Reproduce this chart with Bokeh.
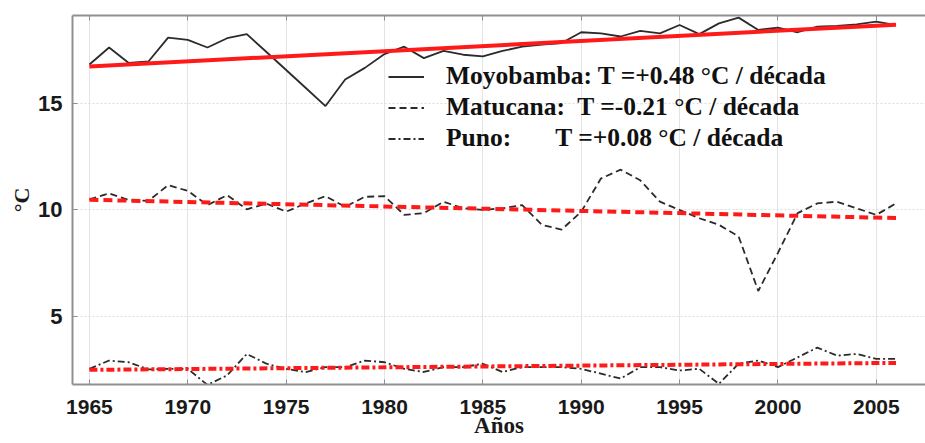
from bokeh.plotting import figure
from bokeh.models import Range1d, LinearAxis, Legend, LegendItem, FixedTicker
from bokeh.embed import file_html
from bokeh.resources import INLINE

# ---- data -------------------------------------------------------------
years = list(range(1965, 2007))

moyobamba = [16.86, 17.66, 16.93, 17.00, 18.13, 18.02, 17.66, 18.10, 18.29, 17.45,
             16.60, 15.75, 14.90, 16.15, 16.70, 17.35, 17.70, 17.16, 17.50, 17.32,
             17.24, 17.50, 17.70, 17.80, 17.87, 18.38, 18.33, 18.18, 18.44, 18.33,
             18.72, 18.29, 18.80, 19.07, 18.49, 18.60, 18.38, 18.64, 18.68, 18.75,
             18.88, 18.72]

matucana = [10.50, 10.78, 10.47, 10.43, 11.17, 10.90, 10.23, 10.70, 10.03, 10.30,
            9.92, 10.31, 10.65, 10.15, 10.62, 10.65, 9.77, 9.85, 10.39, 10.08,
            10.00, 10.08, 10.23, 9.30, 9.07, 9.92, 11.48, 11.90, 11.40, 10.39,
            10.00, 9.61, 9.30, 8.75, 6.18, 7.98, 9.85, 10.31, 10.39, 10.08,
            9.77, 10.31]

puno = [2.51, 2.90, 2.82, 2.48, 2.51, 2.51, 1.75, 2.20, 3.21, 2.75,
        2.51, 2.35, 2.59, 2.59, 2.90, 2.82, 2.51, 2.36, 2.59, 2.59,
        2.75, 2.36, 2.59, 2.59, 2.59, 2.51, 2.28, 2.05, 2.59, 2.59,
        2.43, 2.51, 1.80, 2.75, 2.90, 2.59, 3.05, 3.51, 3.13, 3.21,
        2.98, 2.98]

stations = ["Moyobamba", "Matucana", "Puno"]
trend_start = [16.77, 10.48, 2.46]        # trend value in the first year
trend_per_decade = [0.48, -0.21, 0.08]    # °C / década
legend_labels = [
    "Moyobamba: T =+0.48 °C / década",
    "Matucana:\u00a0 T =-0.21 °C / década",
    "Puno:\u00a0\u00a0\u00a0\u00a0\u00a0\u00a0 T =+0.08 °C / década",
]
x_label = "Años"
y_label = "°C"
x_ticks = [1965, 1970, 1975, 1980, 1985, 1990, 1995, 2000, 2005]
y_ticks = [5, 10, 15]
X_START, X_END = 1964.14, 2007.5

# ---- figure -----------------------------------------------------------
p = figure(width=925, height=443,
           x_range=Range1d(X_START, X_END), y_range=Range1d(1.77, 19.17),
           output_backend="svg", toolbar_location=None,
           min_border_left=72, min_border_right=0, min_border_top=15,
           min_border_bottom=59)
p.outline_line_color = None
p.background_fill_color = "white"

AXIS_COL = "#8f8f8f"
for ax in (p.xaxis[0], p.yaxis[0]):
    ax.axis_line_color = AXIS_COL
    ax.axis_line_width = 2
    ax.major_tick_in = 5
    ax.major_tick_out = 0
    ax.minor_tick_line_color = None
    ax.major_tick_line_color = AXIS_COL
    ax.major_label_text_font = "Liberation Sans"
    ax.major_label_text_font_style = "bold"
    ax.major_label_text_font_size = "21px"
    ax.major_label_text_color = "#1a1a1a"
    ax.axis_label_text_font = "Liberation Serif"
    ax.axis_label_text_font_style = "bold"
    ax.axis_label_text_font_size = "22px"
    ax.axis_label_text_color = "#1a1a1a"

p.xaxis[0].ticker = FixedTicker(ticks=x_ticks)
p.yaxis[0].ticker = FixedTicker(ticks=y_ticks)
p.yaxis[0].axis_label = y_label
p.yaxis[0].major_label_text_font_size = "22px"
p.xaxis[0].major_label_standoff = 15
p.yaxis[0].major_label_standoff = 10
p.yaxis[0].axis_label_standoff = 1

top = LinearAxis(ticker=FixedTicker(ticks=x_ticks), major_label_text_font_size="0px",
                 major_label_text_color=None,
                 major_label_standoff=0, major_tick_in=5, major_tick_out=0,
                 minor_tick_line_color=None, axis_line_color=AXIS_COL,
                 axis_line_width=2, major_tick_line_color=AXIS_COL)
p.add_layout(top, "above")

# x-axis title: a second, line-less axis whose single tick label is the title,
# centred on the frame
mid = round((X_START + X_END) / 2.0, 3)
title_axis = LinearAxis(ticker=FixedTicker(ticks=[mid]),
                        major_label_overrides={mid: x_label},
                        axis_line_color=None, major_tick_line_color=None,
                        minor_tick_line_color=None,
                        major_tick_in=0, major_tick_out=0,
                        major_label_standoff=-4,
                        major_label_text_font="Liberation Serif",
                        major_label_text_font_style="bold",
                        major_label_text_font_size="23px",
                        major_label_text_color="#1a1a1a")
p.add_layout(title_axis, "below")

p.xgrid.grid_line_color = "#e4e4e4"
p.ygrid.grid_line_color = "#dcdcdc"
p.ygrid.grid_line_dash = "2 2"
p.xgrid.ticker = FixedTicker(ticks=x_ticks)
p.ygrid.ticker = FixedTicker(ticks=y_ticks)

series = [moyobamba, matucana, puno]
data_dash = ["solid", "7 4", "7 3 2 3"]
trend_dash = ["solid", "9 5", "8 3 3 3"]

renderers = []
for vals, dash in zip(series, data_dash):
    r = p.line(years, vals, line_color="#2b2b2b", line_width=1.8, line_dash=dash)
    renderers.append(r)

x_end = [years[0], years[-1]]
for start, slope, dash in zip(trend_start, trend_per_decade, trend_dash):
    ys = [start + slope * (x - years[0]) / 10.0 for x in x_end]
    p.line(x_end, ys, line_color="#ff1a1a", line_width=4, line_dash=dash)

items = [LegendItem(label=lab, renderers=[r]) for lab, r in zip(legend_labels, renderers)]
legend = Legend(items=items, location=(316, 231),
                background_fill_alpha=0, border_line_color=None,
                padding=0, margin=0, spacing=1,
                glyph_width=36, glyph_height=29, label_height=29,
                label_standoff=22,
                label_text_font="Liberation Serif", label_text_font_style="bold",
                label_text_font_size="25.5px", label_text_color="#111111")
p.add_layout(legend)

open("out.html", "w").write(file_html(p, INLINE))
